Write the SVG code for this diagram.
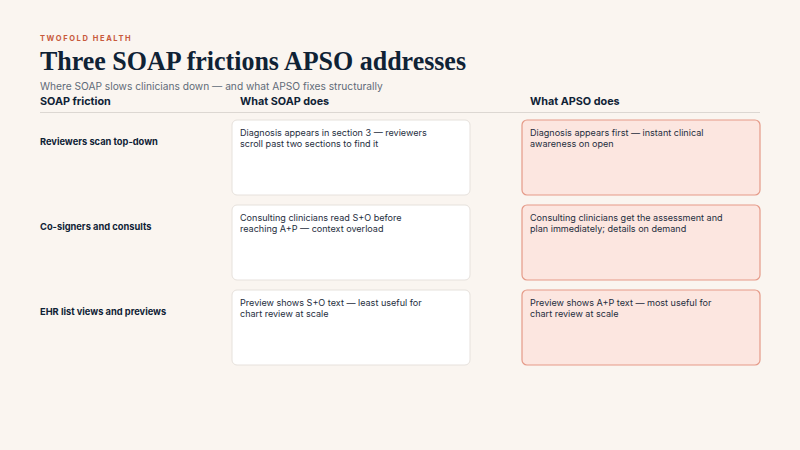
<svg xmlns="http://www.w3.org/2000/svg" width="800" height="450" viewBox="0 0 800 450">
<style>
.s{font-family:Inter,"Noto Sans",sans-serif}
.h{font-family:Inter,"Noto Sans",sans-serif;font-weight:700;font-size:10.8px;fill:#0f2235}
.r{font-size:9.3px}
.t{font-family:Inter,"Noto Sans",sans-serif;font-size:9.05px;fill:#1e2d3d}
.soap{fill:#ffffff;stroke:#e6e1dc;stroke-width:1}
.apso{fill:#fce6e0;stroke:#e59a88;stroke-width:1.2}
</style>
<rect width="800" height="450" fill="#faf5f0"/>
<text x="40" y="41" class="s" font-size="7.5" font-weight="700" letter-spacing="1.6" fill="#c85a3c">TWOFOLD HEALTH</text>
<text x="40" y="70" font-family="'Liberation Serif','DejaVu Serif',serif" font-weight="700" font-size="27" textLength="426" lengthAdjust="spacingAndGlyphs" fill="#0f2235">Three SOAP frictions APSO addresses</text>
<text x="40" y="90" class="s" font-size="10.2" fill="#5f6b78">Where SOAP slows clinicians down — and what APSO fixes structurally</text>
<text x="40" y="105" class="h">SOAP friction</text>
<text x="240" y="105" class="h">What SOAP does</text>
<text x="530" y="105" class="h">What APSO does</text>
<line x1="40" y1="112.5" x2="760" y2="112.5" stroke="#dcd7d2" stroke-width="1.2"/>
<g id="row1">
<text x="40" y="145" class="h r">Reviewers scan top-down</text>
<rect x="232" y="120" width="238" height="75" rx="5" class="soap"/>
<text x="240" y="136" class="t">Diagnosis appears in section 3 — reviewers</text>
<text x="240" y="147" class="t">scroll past two sections to find it</text>
<rect x="522" y="120" width="238" height="75" rx="5" class="apso"/>
<text x="530" y="136" class="t">Diagnosis appears first — instant clinical</text>
<text x="530" y="147" class="t">awareness on open</text>
</g>
<g id="row2">
<text x="40" y="230" class="h r">Co-signers and consults</text>
<rect x="232" y="205" width="238" height="75" rx="5" class="soap"/>
<text x="240" y="221" class="t">Consulting clinicians read S+O before</text>
<text x="240" y="232" class="t">reaching A+P — context overload</text>
<rect x="522" y="205" width="238" height="75" rx="5" class="apso"/>
<text x="530" y="221" class="t">Consulting clinicians get the assessment and</text>
<text x="530" y="232" class="t">plan immediately; details on demand</text>
</g>
<g id="row3">
<text x="40" y="315" class="h r">EHR list views and previews</text>
<rect x="232" y="290" width="238" height="75" rx="5" class="soap"/>
<text x="240" y="306" class="t">Preview shows S+O text — least useful for</text>
<text x="240" y="317" class="t">chart review at scale</text>
<rect x="522" y="290" width="238" height="75" rx="5" class="apso"/>
<text x="530" y="306" class="t">Preview shows A+P text — most useful for</text>
<text x="530" y="317" class="t">chart review at scale</text>
</g>
<g id="connectors"/>
</svg>
